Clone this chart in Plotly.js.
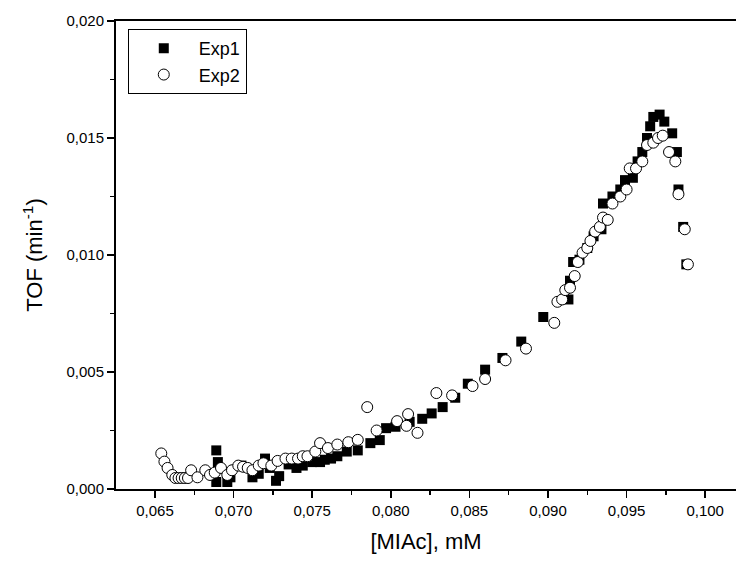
<!DOCTYPE html>
<html>
<head>
<meta charset="utf-8">
<script src="https://cdn.plot.ly/plotly-3.0.1.min.js"></script>
<style>html,body{margin:0;padding:0;background:#fff;}#chart{width:736px;height:561px;}</style>
</head>
<body>
<div id="chart"></div>
<script>
// Exp1 (filled squares)
const exp1X = [0.0689,0.0689,0.0690,0.0696,0.0698,0.0705,0.0712,0.0716,0.0720,0.0723,0.0727,0.0729,0.0735,0.0740,0.0744,0.0750,0.0755,0.0758,0.0762,0.0766,0.0772,0.0779,0.0787,0.0793,0.0797,0.0803,0.0812,0.0820,0.0826,0.0833,0.0841,0.0849,0.0860,0.0871,0.0883,0.0897,0.0913,0.0914,0.0916,0.0920,0.0925,0.0929,0.0934,0.0935,0.0941,0.0946,0.0949,0.0954,0.0957,0.0960,0.0963,0.0965,0.0967,0.0971,0.0974,0.0979,0.0982,0.0983,0.0986,0.0988];
const exp1Y = [0.00030,0.00165,0.00115,0.00030,0.00050,0.00100,0.00050,0.00065,0.00130,0.00090,0.00035,0.00055,0.00105,0.00090,0.00100,0.00115,0.00115,0.00125,0.00130,0.00140,0.00160,0.00165,0.00196,0.00209,0.00260,0.00266,0.00287,0.00300,0.00323,0.00350,0.00390,0.00450,0.00510,0.00560,0.00630,0.00735,0.00810,0.00890,0.00970,0.00980,0.01030,0.01080,0.01110,0.01220,0.01250,0.01280,0.01320,0.01330,0.01400,0.01440,0.01500,0.01550,0.01590,0.01600,0.01570,0.01520,0.01440,0.01280,0.01120,0.00960];
// Exp2 (open circles)
const exp2X = [0.0654,0.0656,0.0658,0.0661,0.0663,0.0665,0.0667,0.0669,0.0671,0.0673,0.0677,0.0682,0.0685,0.0688,0.0692,0.0696,0.0699,0.0703,0.0706,0.0709,0.0712,0.0716,0.0719,0.0724,0.0728,0.0733,0.0737,0.0741,0.0744,0.0747,0.0752,0.0755,0.0760,0.0766,0.0773,0.0779,0.0785,0.0791,0.0804,0.0810,0.0811,0.0817,0.0829,0.0839,0.0852,0.0860,0.0873,0.0886,0.0904,0.0906,0.0909,0.0911,0.0914,0.0917,0.0919,0.0922,0.0925,0.0927,0.0930,0.0933,0.0935,0.0938,0.0941,0.0946,0.0950,0.0952,0.0956,0.0960,0.0963,0.0967,0.0970,0.0973,0.0977,0.0981,0.0983,0.0987,0.0989];
const exp2Y = [0.00152,0.00117,0.00090,0.00060,0.00047,0.00047,0.00047,0.00047,0.00047,0.00080,0.00050,0.00080,0.00060,0.00070,0.00090,0.00060,0.00080,0.00100,0.00095,0.00090,0.00080,0.00100,0.00110,0.00100,0.00120,0.00130,0.00130,0.00130,0.00140,0.00140,0.00160,0.00196,0.00175,0.00190,0.00200,0.00210,0.00350,0.00250,0.00290,0.00270,0.00320,0.00240,0.00410,0.00400,0.00440,0.00470,0.00550,0.00600,0.00710,0.00800,0.00810,0.00850,0.00860,0.00910,0.00970,0.01010,0.01030,0.01060,0.01100,0.01120,0.01160,0.01150,0.01220,0.01250,0.01280,0.01370,0.01370,0.01400,0.01470,0.01480,0.01500,0.01510,0.01440,0.01400,0.01260,0.01110,0.00960];

const FONT = 'Arial, "Liberation Sans", sans-serif';

const traces = [
  {x: exp1X, y: exp1Y, name: 'Exp1', type: 'scatter', mode: 'markers',
   marker: {symbol: 'square', size: 10, color: '#000000', line: {width: 0}}},
  {x: exp2X, y: exp2Y, name: 'Exp2', type: 'scatter', mode: 'markers',
   marker: {symbol: 'circle', size: 11, color: '#ffffff', line: {width: 1, color: '#000000'}}}
];

const layout = {
  width: 736, height: 561,
  margin: {l: 116, r: 0, t: 21, b: 72},
  paper_bgcolor: '#ffffff', plot_bgcolor: '#ffffff',
  separators: ', ',
  font: {family: FONT, color: '#000000', size: 15},
  showlegend: true,
  legend: {x: 0.019, y: 0.983, xanchor: 'left', yanchor: 'top',
    bordercolor: '#000000', borderwidth: 1, bgcolor: '#ffffff',
    font: {family: FONT, size: 18, color: '#000000'}, itemwidth: 60},
  xaxis: {
    range: [0.06252, 0.10196], autorange: false,
    tickvals: [0.065,0.070,0.075,0.080,0.085,0.090,0.095,0.100],
    tickformat: '.3f', ticks: 'outside', ticklen: 7, tickwidth: 1.5, tickcolor: '#000',
    minor: {tickvals: [0.0625,0.0675,0.0725,0.0775,0.0825,0.0875,0.0925,0.0975], ticks: 'outside', ticklen: 4, tickwidth: 1.5, tickcolor: '#000'},
    showline: true, linewidth: 2, linecolor: '#000', mirror: true,
    showgrid: false, zeroline: false,
    tickfont: {family: FONT, size: 15, color: '#000'},
    title: {text: '[MIAc], mM', font: {family: FONT, size: 22, color: '#000'}, standoff: 16}
  },
  yaxis: {
    range: [0, 0.020], autorange: false,
    tickvals: [0,0.005,0.010,0.015,0.020],
    tickformat: '.3f', ticks: 'outside', ticklen: 7, tickwidth: 1.5, tickcolor: '#000',
    minor: {tickvals: [0.0025,0.0075,0.0125,0.0175], ticks: 'outside', ticklen: 4, tickwidth: 1.5, tickcolor: '#000'},
    showline: true, linewidth: 2, linecolor: '#000', mirror: false,
    showgrid: false, zeroline: false,
    tickfont: {family: FONT, size: 15, color: '#000'},
    title: {text: 'TOF (min<sup>-1</sup>)', font: {family: FONT, size: 22, color: '#000'}, standoff: 18}
  }
};

Plotly.newPlot('chart', traces, layout, {displayModeBar: false, staticPlot: true});
</script>
</body>
</html>
